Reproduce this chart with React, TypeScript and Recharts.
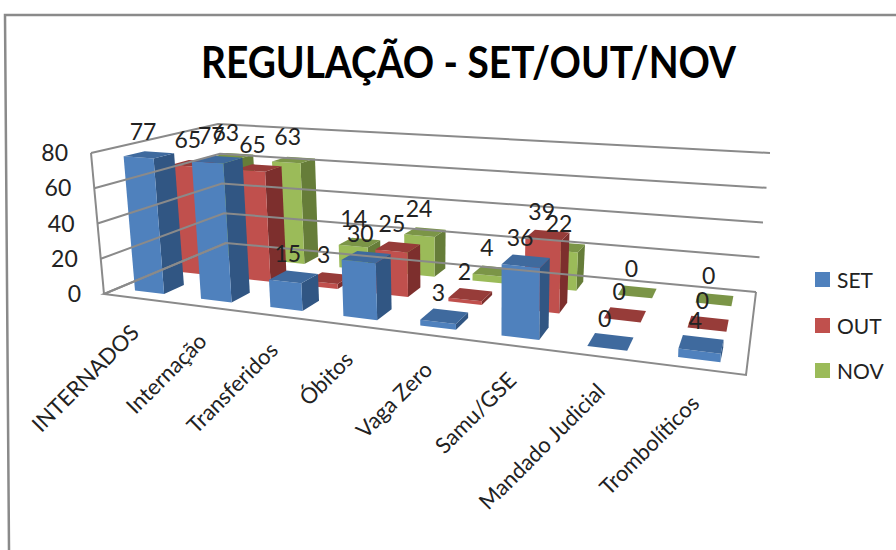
import { BarChart, Bar, XAxis, YAxis, LabelList, Legend } from 'recharts';

const categories = ['INTERNADOS', 'Internação', 'Transferidos', 'Óbitos', 'Vaga Zero', 'Samu/GSE', 'Mandado Judicial', 'Trombolíticos'];
const setValues = [77, 77, 15, 30, 3, 36, 0, 4];
const outValues = [65, 65, 3, 25, 2, 39, 0, 0];
const novValues = [63, 63, 14, 24, 4, 22, 0, 0];
const yTicks = [0, 20, 40, 60, 80];

const data = categories.map((name, i) => ({ name, SET: setValues[i], OUT: outValues[i], NOV: novValues[i] }));

const W = 896;
const H = 550;
const FONT = 'Lato, "Open Sans", sans-serif';
const TEXT = '#222222';
const WALL = '#8a8a8a';

const COLORS: Record<string, { front: string; side: string; top: string }> = {
  SET: { front: '#4f81bd', side: '#315683', top: '#3f6a9e' },
  OUT: { front: '#c0504d', side: '#7d2f2d', top: '#973c39' },
  NOV: { front: '#9bbb59', side: '#667d39', top: '#7b9547' },
};

// row centre on the floor, 0 is the front edge and 1 the back wall
const ROW: Record<string, number> = { SET: 1 / 6, OUT: 1 / 2, NOV: 5 / 6 };
const BAR_DEPTH = 0.15;
const U_BEND = 0.08;

type Pt = [number, number];

// unit square to quad: front-left, front-right, back-right, back-left
function makeHomography(q: Pt[]) {
  const [[x0, y0], [x1, y1], [x2, y2], [x3, y3]] = q;
  const dx1 = x1 - x2, dx2 = x3 - x2, sx = x0 - x1 + x2 - x3;
  const dy1 = y1 - y2, dy2 = y3 - y2, sy = y0 - y1 + y2 - y3;
  const den = dx1 * dy2 - dx2 * dy1;
  const g = (sx * dy2 - dx2 * sy) / den;
  const h = (dx1 * sy - sx * dy1) / den;
  const a = x1 - x0 + g * x1, b = x3 - x0 + h * x3;
  const d = y1 - y0 + g * y1, e = y3 - y0 + h * y3;
  return (u: number, v: number): Pt => {
    const k = g * u + h * v + 1;
    return [(a * u + b * v + x0) / k, (d * u + e * v + y0) / k];
  };
}

const floor = makeHomography([[104, 294], [746, 375], [756, 292], [226, 243]]);
const ceiling = makeHomography([[91, 153], [753, 200], [770, 153], [218, 124]]);

function project(uRaw: number, v: number, w: number): Pt {
  // eases the perspective along the category direction, ends stay fixed
  const u = (uRaw * (1 + U_BEND)) / (1 + U_BEND * uRaw);
  const a = floor(u, v);
  const b = ceiling(u, v);
  return [a[0] + (b[0] - a[0]) * w, a[1] + (b[1] - a[1]) * w];
}

const pts = (list: Pt[]) => list.map((p) => p.map((n) => n.toFixed(1)).join(',')).join(' ');

function bar3d(key: string) {
  return (props: any) => {
    const { x, y, width } = props;
    const u0 = x / W;
    const u1 = (x + width) / W;
    const w = (H - y) / H;
    const v0 = ROW[key] - BAR_DEPTH / 2;
    const v1 = ROW[key] + BAR_DEPTH / 2;
    const c = COLORS[key];
    return (
      <g>
        <polygon fill={c.side} points={pts([project(u1, v0, 0), project(u1, v1, 0), project(u1, v1, w), project(u1, v0, w)])} />
        <polygon fill={c.front} points={pts([project(u0, v0, 0), project(u1, v0, 0), project(u1, v0, w), project(u0, v0, w)])} />
        <polygon fill={c.top} points={pts([project(u0, v0, w), project(u1, v0, w), project(u1, v1, w), project(u0, v1, w)])} />
      </g>
    );
  };
}

function barLabel(key: string) {
  return (props: any) => {
    const { x, y, width, value } = props;
    const [px, py] = project((x + width / 2) / W, ROW[key], (H - y) / H);
    return (
      <text x={px - 6} y={py - 15} textAnchor="middle" fontFamily={FONT} fontSize={23} fill={TEXT}>
        {value}
      </text>
    );
  };
}

function WallTick(props: any) {
  const { y, payload } = props;
  const w = (H - y) / H;
  const fl = project(0, 0, w);
  const bl = project(0, 1, w);
  const br = project(1, 1, w);
  return (
    <g>
      <polyline fill="none" stroke={WALL} strokeWidth={2} points={pts([fl, bl, br])} />
      {payload.value === 0 && (
        <g>
          <polyline fill="none" stroke={WALL} strokeWidth={2} points={pts([bl, fl, project(1, 0, 0), br])} />
          <polyline fill="none" stroke={WALL} strokeWidth={2} points={pts([fl, project(0, 0, 1)])} />
        </g>
      )}
      <text x={fl[0] - 23} y={fl[1] + 8} textAnchor="end" fontFamily={FONT} fontSize={23} fill={TEXT}>
        {payload.value}
      </text>
    </g>
  );
}

function CategoryTick(props: any) {
  const { x, payload } = props;
  const [px, py] = project(x / W, 0, 0);
  const tx = px + 4;
  const ty = py + 36;
  return (
    <text x={tx} y={ty} textAnchor="end" transform={`rotate(-45 ${tx} ${ty})`} fontFamily={FONT} fontSize={22} fill={TEXT}>
      {payload.value}
    </text>
  );
}

function LegendBox(props: any) {
  const items = [...(props.payload || [])].reverse();
  return (
    <div style={{ fontFamily: FONT, fontSize: 21, color: TEXT }}>
      {items.map((it: any) => (
        <div key={it.value} style={{ display: 'flex', alignItems: 'center', height: 45.5 }}>
          <span style={{ width: 15, height: 15, background: COLORS[it.value].front, marginRight: 7 }} />
          {it.value}
        </div>
      ))}
    </div>
  );
}

export default function App() {
  return (
    <div style={{ position: 'absolute', left: 0, top: 0, width: W, height: H, background: '#fff', overflow: 'hidden' }}>
      <svg width={W} height={H} style={{ position: 'absolute', left: 0, top: 0 }}>
        <path d="M896 15 L5 15 L9 550" fill="none" stroke="#8a8a8a" strokeWidth={2.5} />
        <text x={468.5} y={78} textAnchor="middle" textLength={535} lengthAdjust="spacingAndGlyphs" fontFamily={FONT} fontWeight={700} fontSize={44} fill="#000">
          REGULAÇÃO - SET/OUT/NOV
        </text>
      </svg>
      <BarChart
        width={W}
        height={H}
        data={data}
        margin={{ top: 0, right: 0, bottom: -1, left: -1 }}
        barSize={50}
        barGap={-50}
        style={{ position: 'absolute', left: 0, top: 0 }}
      >
        <YAxis width={1} domain={[0, 80]} ticks={yTicks} interval={0} axisLine={false} tickLine={false} tick={WallTick} />
        <XAxis height={1} dataKey="name" interval={0} axisLine={false} tickLine={false} tick={CategoryTick} />
        <Legend
          layout="vertical"
          align="center"
          verticalAlign="middle"
          content={LegendBox}
          wrapperStyle={{ left: 815, top: 257, width: 80 }}
        />
        {['NOV', 'OUT', 'SET'].map((key) => (
          <Bar key={key} dataKey={key} isAnimationActive={false} shape={bar3d(key)}>
            <LabelList dataKey={key} content={barLabel(key)} />
          </Bar>
        ))}
      </BarChart>
    </div>
  );
}
